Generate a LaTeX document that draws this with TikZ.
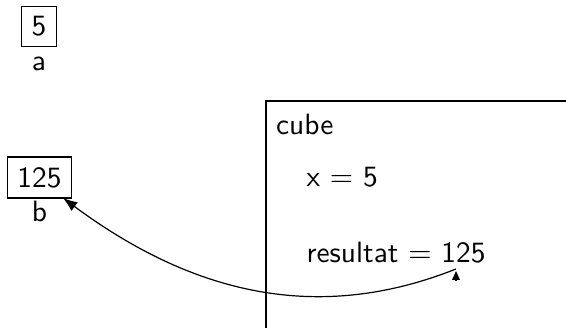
\documentclass[tikz,border=0pt]{standalone}
\usetikzlibrary{arrows.meta}
\begin{document}
\begin{tikzpicture}[x=0.33333pt,y=-0.33333pt,
  every node/.style={font=\fontsize{9.8}{12}\selectfont\sffamily},
  valbox/.style={draw,line width=0.4pt,inner sep=0.34em},
  lbl/.style={inner sep=0pt,anchor=base},
  txt/.style={inner sep=0pt,anchor=base west},
  link/.style={line width=0.4pt,{Latex[length=4.8pt,width=3.6pt]}-},
  uptip/.style={line width=0.4pt,-{Triangle[length=3pt,width=2.6pt]}}]
\useasboundingbox (0,0) rectangle (566,328);
% variables
\node[valbox] (boxa) at (39,26.5) {5};
\node[lbl] (laba) at (39,70.7) {a};
\node[valbox] (boxb) at (39.5,177.5) {125};
\node[lbl] (labb) at (39.5,221.7) {b};
% frame of cube
\draw[line width=0.4pt] (566,101) -- (266,101) -- (266,328);
\node[txt] (cube) at (275.5,135) {cube};
\node[txt] (xval) at (306,187) {x $=$ 5};
\node[txt] (res) at (306,263) {resultat $=$ 125};
% connector
\coordinate (bend) at (63,198);
\coordinate (rend) at (456,269);
\coordinate (tipbase) at (456,279.6);
\coordinate (tipapex) at (456,271);
\draw[link] (bend) .. controls (190,292) and (315,325) .. (rend);
\draw[uptip] (tipbase) -- (tipapex);
\end{tikzpicture}
\end{document}
